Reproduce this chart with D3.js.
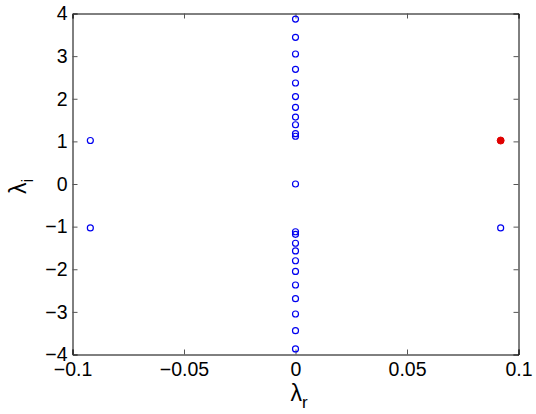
<!DOCTYPE html>
<html>
<head>
<meta charset="utf-8">
<script src="https://cdn.jsdelivr.net/npm/d3@7"></script>
<style>
    body { margin: 0; background: #fff; }
    svg text { font-family: "Liberation Sans", Arial, Helvetica, sans-serif; fill: #000; }
</style>
</head>
<body>
<script>
// eigenvalues on the imaginary axis (upper half, mirrored below)
var imagAxisValues = [1.12, 1.18, 1.39, 1.57, 1.80, 2.05, 2.37, 2.69, 3.05, 3.44, 3.87];
var zeroValues = [0];
var offAxisReal = [-0.092, -0.092, 0.092];
var offAxisImag = [1.02, -1.03, -1.03];
var unstableReal = [0.092];
var unstableImag = [1.02];
var xTicks = [-0.1, -0.05, 0, 0.05, 0.1];
var xTickLabels = ["\u22120.1", "\u22120.05", "0", "0.05", "0.1"];
var yTicks = [-4, -3, -2, -1, 0, 1, 2, 3, 4];
var yTickLabels = ["\u22124", "\u22123", "\u22122", "\u22121", "0", "1", "2", "3", "4"];

(function() {
    var width = 536,
        height = 414,
        left = 72.5,
        right = 518.5,
        top = 13.5,
        bottom = 354.5,
        tickLen = 5,
        blue = "#0000f0";

    var x = d3.scaleLinear().domain([-0.1, 0.1]).range([left, right]);
    var y = d3.scaleLinear().domain([-4, 4]).range([bottom, top]);

    var svg = d3.select("body").append("svg")
                .attr("width", width)
                .attr("height", height);

    // build point list from the arrays
    var openPoints = [];
    imagAxisValues.forEach(function(v) {
        openPoints.push({re: 0, im: v});
        openPoints.push({re: 0, im: -v});
    });
    zeroValues.forEach(function(v) {
        openPoints.push({re: 0, im: v});
    });
    offAxisReal.forEach(function(r, i) {
        openPoints.push({re: r, im: offAxisImag[i]});
    });
    var filledPoints = unstableReal.map(function(r, i) {
        return {re: r, im: unstableImag[i]};
    });

    // axes (ticks inside, box on, MATLAB look)
    var gx = svg.append("g")
                .attr("transform", "translate(0," + bottom + ")")
                .call(d3.axisBottom(x).tickValues(xTicks).tickSize(-tickLen).tickPadding(8)
                        .tickFormat(function(d, i) {return xTickLabels[i]; }));
    var gxTop = svg.append("g")
                   .attr("transform", "translate(0," + top + ")")
                   .call(d3.axisTop(x).tickValues(xTicks).tickSize(-tickLen).tickFormat(""));
    var gy = svg.append("g")
                .attr("transform", "translate(" + left + ",0)")
                .call(d3.axisLeft(y).tickValues(yTicks).tickSize(-tickLen).tickPadding(5)
                        .tickFormat(function(d, i) {return yTickLabels[i]; }));
    var gyRight = svg.append("g")
                     .attr("transform", "translate(" + right + ",0)")
                     .call(d3.axisRight(y).tickValues(yTicks).tickSize(-tickLen).tickFormat(""));

    [gx, gxTop, gy, gyRight].forEach(function(g) {
        g.select(".domain").attr("stroke", "#000").attr("stroke-width", 1);
        g.selectAll(".tick line").attr("stroke", "#555");
        g.selectAll("text")
         .style("font-size", "19.5px")
         .attr("fill", "#000");
    });
    gx.selectAll("text").attr("dy", "0.71em");

    // markers
    svg.selectAll(".openPt")
       .data(openPoints)
       .enter()
       .append("circle")
       .attr("class", "openPt")
       .attr("cx", function(d) {return x(d.re); })
       .attr("cy", function(d) {return y(d.im); })
       .attr("r", 3)
       .attr("fill", "none")
       .attr("stroke", blue)
       .attr("stroke-width", 1.2);

    svg.selectAll(".filledPt")
       .data(filledPoints)
       .enter()
       .append("circle")
       .attr("class", "filledPt")
       .attr("cx", function(d) {return x(d.re); })
       .attr("cy", function(d) {return y(d.im); })
       .attr("r", 3.5)
       .attr("fill", "#e00000")
       .attr("stroke", "#e00000")
       .attr("stroke-width", 1);

    // axis labels
    var xl = svg.append("text")
                .attr("x", (left + right) / 2 - 5)
                .attr("y", 401)
                .style("font-size", "23px");
    xl.append("tspan").text("\u03bb");
    xl.append("tspan").attr("dy", 7).style("font-size", "17px").text("r");

    var yl = svg.append("text")
                .attr("transform", "translate(26," + ((top + bottom) / 2 + 10) + ") rotate(-90)")
                .style("font-size", "23px");
    yl.append("tspan").text("\u03bb");
    yl.append("tspan").attr("dy", 7).style("font-size", "17px").text("i");
})();
</script>
</body>
</html>
